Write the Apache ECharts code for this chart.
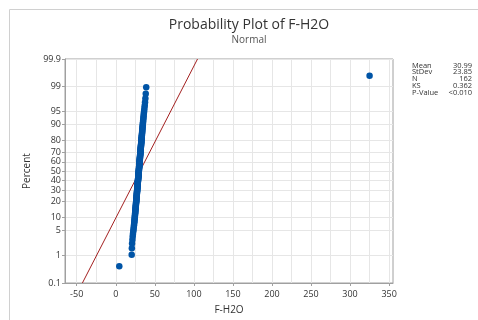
<!DOCTYPE html>
<html>
<head>
<meta charset="utf-8">
<script src="https://cdn.jsdelivr.net/npm/echarts@6/dist/echarts.min.js"></script>
<style>
  html, body { margin: 0; padding: 0; background: #fff; }
  #chart { width: 478px; height: 320px; }
</style>
</head>
<body>
<div id="chart"></div>
<script>
const fh2o = [
  4.5,
  20.4, 20.6, 20.9, 21.3, 21.7, 22.0, 22.4, 22.7, 23.0, 23.3,
  23.5, 23.7, 23.9, 24.1, 24.2, 24.4, 24.5, 24.7, 24.8, 24.9,
  25.0, 25.1, 25.3, 25.4, 25.5, 25.6, 25.7, 25.8, 25.9, 26.0,
  26.1, 26.2, 26.3, 26.4, 26.4, 26.5, 26.6, 26.7, 26.8, 26.8,
  26.9, 27.0, 27.1, 27.1, 27.2, 27.3, 27.3, 27.4, 27.5, 27.5,
  27.6, 27.7, 27.7, 27.8, 27.9, 27.9, 28.0, 28.1, 28.1, 28.2,
  28.3, 28.3, 28.4, 28.5, 28.5, 28.6, 28.6, 28.7, 28.8, 28.9,
  28.9, 29.0, 29.0, 29.1, 29.2, 29.2, 29.3, 29.4, 29.4, 29.5,
  29.6, 29.6, 29.7, 29.7, 29.8, 29.9, 29.9, 30.0, 30.0, 30.1,
  30.2, 30.2, 30.3, 30.3, 30.4, 30.5, 30.5, 30.6, 30.6, 30.7,
  30.8, 30.8, 30.9, 31.0, 31.0, 31.1, 31.2, 31.2, 31.3, 31.4,
  31.4, 31.5, 31.6, 31.6, 31.7, 31.8, 31.9, 31.9, 32.0, 32.1,
  32.2, 32.3, 32.3, 32.4, 32.5, 32.6, 32.7, 32.8, 32.8, 32.9,
  33.0, 33.1, 33.2, 33.3, 33.4, 33.5, 33.6, 33.7, 33.8, 33.9,
  34.0, 34.1, 34.3, 34.4, 34.6, 34.7, 34.9, 35.0, 35.2, 35.4,
  35.6, 35.8, 36.1, 36.4, 36.7, 37.1, 37.5, 37.9, 38.4, 39.0,
  325
]

const fitMean = 30.99
const fitStDev = 23.85

const statNames = ["Mean", "StDev", "N", "KS", "P-Value"]
const statValues = ["30.99", "23.85", "162", "0.362", "<0.010"]

const percentTicks = [0.1, 1, 5, 10, 20, 30, 40, 50, 60, 70, 80, 90, 95, 99, 99.9]
const percentLabels = ["0.1", "1", "5", "10", "20", "30", "40", "50", "60", "70", "80", "90", "95", "99", "99.9"]
const xTicks = [-50, 0, 50, 100, 150, 200, 250, 300, 350]
const xGridLines = [-50, -25, 0, 25, 50, 75, 100, 125, 150, 175, 200, 225, 250, 275, 300, 325, 350]

// inverse standard normal (Acklam) - turns percent into the probit scale
function normInv(p) {
  const a = [-39.69683028665376, 220.9460984245205, -275.9285104469687, 138.3577518672690, -30.66479806614716, 2.506628277459239]
  const b = [-54.47609879822406, 161.5858368580409, -155.6989798598866, 66.80131188771972, -13.28068155288572]
  const c = [-0.007784894002430293, -0.3223964580411365, -2.400758277161838, -2.549732539343734, 4.374664141464968, 2.938163982698783]
  const d = [0.007784695709041462, 0.3224671290700398, 2.445134137142996, 3.754408661907416]
  const pl = 0.02425
  let q, r
  if (p < pl) {
    q = Math.sqrt(-2 * Math.log(p))
    return (((((c[0] * q + c[1]) * q + c[2]) * q + c[3]) * q + c[4]) * q + c[5]) / ((((d[0] * q + d[1]) * q + d[2]) * q + d[3]) * q + 1)
  }
  if (p <= 1 - pl) {
    q = p - 0.5
    r = q * q
    return (((((a[0] * r + a[1]) * r + a[2]) * r + a[3]) * r + a[4]) * r + a[5]) * q / (((((b[0] * r + b[1]) * r + b[2]) * r + b[3]) * r + b[4]) * r + 1)
  }
  q = Math.sqrt(-2 * Math.log(1 - p))
  return -(((((c[0] * q + c[1]) * q + c[2]) * q + c[3]) * q + c[4]) * q + c[5]) / ((((d[0] * q + d[1]) * q + d[2]) * q + d[3]) * q + 1)
}

const n = fh2o.length
const points = fh2o.map((v, i) => [v, normInv((i + 1 - 0.3) / (n + 0.4))]) // median ranks
const tickZ = percentTicks.map((p) => normInv(p / 100))
const zMin = tickZ[0]
const zMax = tickZ[tickZ.length - 1]
const fitLine = [[fitMean + fitStDev * zMin, zMin], [fitMean + fitStDev * zMax, zMax]]

function percentLabel(v) {
  let best = 0
  tickZ.forEach((z, i) => {
    if (Math.abs(z - v) < Math.abs(tickZ[best] - v)) best = i
  })
  return percentLabels[best]
}

const font = "'Open Sans', 'Noto Sans', sans-serif"
const gridColor = "#e6e6e6"
const axisColor = "#a0a0a0"

const statTexts = []
statNames.forEach((name, i) => {
  statTexts.push({
    type: "text", left: 412, top: 61.5 + i * 6.8,
    style: { text: name, font: "7.5px " + font, fill: "#333" }
  })
  statTexts.push({
    type: "text", right: 6, top: 61.5 + i * 6.8,
    style: { text: statValues[i], font: "7.5px " + font, fill: "#333", align: "right" }
  })
})

const myChart = echarts.init(document.getElementById("chart"))
const option = {
  animation: false,
  textStyle: { fontFamily: font },
  grid: { left: 65, right: 85, top: 59, bottom: 35, show: true, borderColor: axisColor, borderWidth: 1 },
  graphic: [
    { type: "rect", shape: { x: 9.5, y: 9.5, width: 500, height: 400 }, style: { fill: null, stroke: "#d0d0d0", lineWidth: 1 }, z: -1 },
    { type: "text", x: 249, y: 18, style: { text: "Probability Plot of F-H2O", font: "14px " + font, fill: "#333", align: "center" } },
    { type: "text", x: 249, y: 35, style: { text: "Normal", font: "10px " + font, fill: "#555", align: "center" } }
  ].concat(statTexts),
  xAxis: {
    type: "value",
    min: -65,
    max: 355,
    name: "F-H2O",
    nameLocation: "middle",
    nameGap: 22,
    nameTextStyle: { fontSize: 10, color: "#333", fontFamily: font },
    axisLine: { show: true, onZero: false, lineStyle: { color: axisColor } },
    axisTick: { show: true, length: 3, inside: false, customValues: xTicks, lineStyle: { color: axisColor } },
    axisLabel: { customValues: xTicks, fontSize: 9, color: "#333", margin: 7 },
    splitLine: { show: false }
  },
  yAxis: {
    type: "value",
    min: zMin,
    max: zMax,
    name: "Percent",
    nameLocation: "middle",
    nameGap: 29,
    nameTextStyle: { fontSize: 10, color: "#333", fontFamily: font },
    axisLine: { show: true, onZero: false, lineStyle: { color: axisColor } },
    axisTick: { show: true, length: 3, customValues: tickZ, lineStyle: { color: axisColor } },
    axisLabel: { customValues: tickZ, fontSize: 9, color: "#333", margin: 4, formatter: percentLabel },
    splitLine: { show: false }
  },
  series: [
    {
      type: "line",
      data: [],
      silent: true,
      z: 0,
      markLine: {
        z: 0,
        silent: true,
        animation: false,
        symbol: ["none", "none"],
        label: { show: false },
        emphasis: { disabled: true },
        lineStyle: { color: gridColor, type: "solid", width: 1 },
        data: tickZ.map((z) => ({ yAxis: z })).concat(xGridLines.map((x) => ({ xAxis: x })))
      }
    },
    {
      type: "line",
      data: fitLine,
      showSymbol: false,
      z: 2,
      lineStyle: { color: "#a32020", width: 1, type: "solid" }
    },
    {
      type: "scatter",
      data: points,
      symbolSize: 6.5,
      z: 3,
      itemStyle: { color: "#0054a6", opacity: 1 }
    }
  ]
}
myChart.setOption(option)
</script>
</body>
</html>
